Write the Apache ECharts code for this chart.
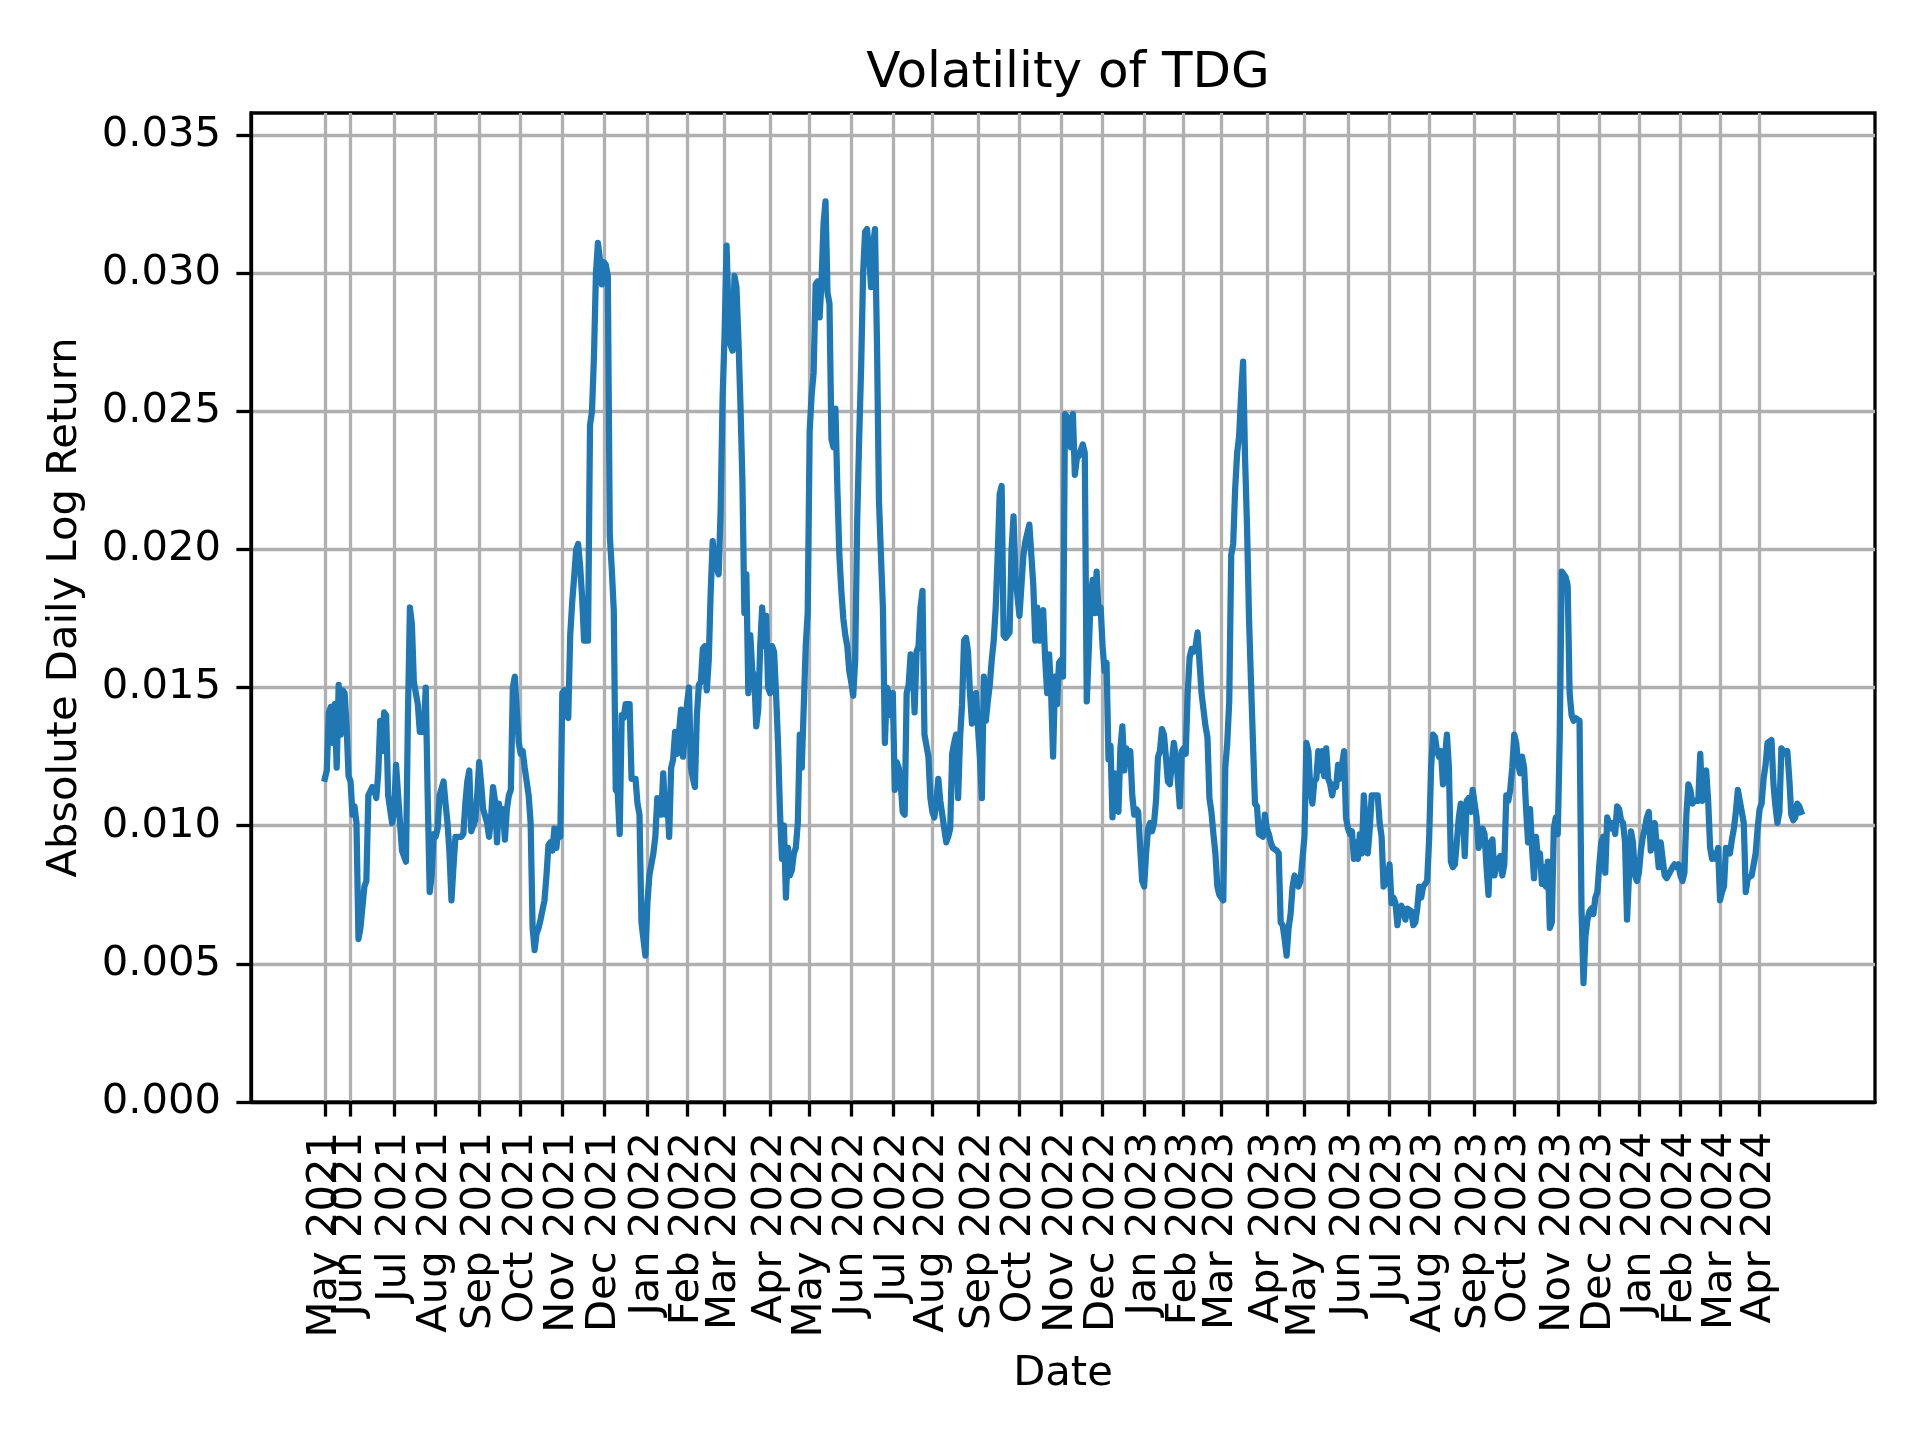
<!DOCTYPE html>
<html>
<head>
<meta charset="utf-8">
<script src="https://cdn.jsdelivr.net/npm/echarts@6/dist/echarts.min.js"></script>
<style>
html,body{margin:0;padding:0;background:#fff;}
#chart{width:1920px;height:1440px;}
</style>
</head>
<body>
<div id="chart"></div>
<script>
// ---------------- data ----------------
const chartTitle = 'Volatility of TDG';
const xAxisName = 'Date';
const yAxisName = 'Absolute Daily Log Return';

// trading calendar (x axis is plotted by trading day)
const firstTradingDay = '2021-05-12';
const lastTradingDay = '2024-04-30';
const marketHolidays = [
  '2021-05-31','2021-07-05','2021-09-06','2021-11-25','2021-12-24',
  '2022-01-17','2022-02-21','2022-04-15','2022-05-30','2022-06-20','2022-07-04','2022-09-05','2022-11-24','2022-12-26',
  '2023-01-02','2023-01-16','2023-02-20','2023-04-07','2023-05-29','2023-06-19','2023-07-04','2023-09-04','2023-11-23','2023-12-25',
  '2024-01-01','2024-01-15','2024-02-19','2024-03-29'
];

const tickLabels = [
  'May 2021','Jun 2021','Jul 2021','Aug 2021','Sep 2021','Oct 2021','Nov 2021','Dec 2021',
  'Jan 2022','Feb 2022','Mar 2022','Apr 2022','May 2022','Jun 2022','Jul 2022','Aug 2022',
  'Sep 2022','Oct 2022','Nov 2022','Dec 2022','Jan 2023','Feb 2023','Mar 2023','Apr 2023',
  'May 2023','Jun 2023','Jul 2023','Aug 2023','Sep 2023','Oct 2023','Nov 2023','Dec 2023',
  'Jan 2024','Feb 2024','Mar 2024','Apr 2024'
];
const yTicks = [0, 0.005, 0.010, 0.015, 0.020, 0.025, 0.030, 0.035];
const yMin = 0;
const yMax = 0.0358;

function days(ym, list) { return list.map(function (d) { return ym + '-' + String(d).padStart(2, '0'); }); }

const dates = [].concat(
  days('2021-05', [12,13,14,17,18,19,20,21,24,25,26,27,28]),
  days('2021-06', [1,2,3,4,7,8,9,10,11,14,16,17,18,21,22,23,24,25,28,30]),
  days('2021-07', [1,2,6,7,8,9,12,13,14,15,16,20,21,23,26,27,28,29,30]),
  days('2021-08', [2,3,4,6,9,10,11,12,13,16,17,19,20,23,24,25,26,30,31]),
  days('2021-09', [1,2,3,8,9,10,13,14,15,16,17,20,21,22,23,24,27,28,29,30]),
  days('2021-10', [1,4,5,7,8,11,12,13,14,15,18,19,20,21,22,25,26,27,28,29]),
  days('2021-11', [1,2,3,4,5,8,9,10,11,12,15,16,18,19,22,23,24,26,29,30]),
  days('2021-12', [1,2,3,6,7,8,9,10,13,14,15,16,20,21,23,27,28,29,30,31]),
  days('2022-01', [3,4,6,7,10,12,13,14,18,19,20,21,24,25,26,27,28,31]),
  days('2022-02', [1,2,3,4,7,8,9,10,11,14,15,16,17,18,22,24,25,28]),
  days('2022-03', [1,2,3,4,7,8,9,10,11,14,15,16,17,18,21,22,23,24,25,28,29,30,31]),
  days('2022-04', [1,4,5,6,7,8,11,12,13,14,18,19,20,21,22,25,26,27,28,29]),
  days('2022-05', [2,3,4,5,6,9,10,11,12,13,16,17,18,19,20,23,24,25,26,27,31]),
  days('2022-06', [1,2,3,6,7,8,9,10,13,14,15,16,17,21,22,23,24,27,28,29,30]),
  days('2022-07', [1,5,6,7,8,11,12,13,14,15,18,19,20,21,22,25,26,28,29]),
  days('2022-08', [1,2,3,4,5,8,9,10,11,12,15,16,17,18,19,22,23,24,25,26,29,30,31]),
  days('2022-09', [1,2,6,7,8,9,12,13,14,15,16,19,20,21,22,23,26,27,28,29,30]),
  days('2022-10', [3,4,5,6,7,10,11,12,13,14,17,18,19,20,21,24,25,26,27,28,31]),
  days('2022-11', [1,2,3,4,7,8,9,10,11,14,15,16,17,18,21,22,23,25,28,29,30]),
  days('2022-12', [1,2,5,6,7,8,9,12,13,14,15,16,19,20,21,22,23,27,28,29,30]),
  days('2023-01', [3,4,5,6,9,10,11,12,13,17,18,19,20,23,24,25,26,27,30,31]),
  days('2023-02', [1,2,3,6,7,8,9,10,13,14,15,16,17,21,22,23,24,27,28]),
  days('2023-03', [1,2,3,6,7,8,9,10,13,14,15,16,17,20,21,22,23,24,27,28,29,30,31]),
  days('2023-04', [3,4,5,6,10,11,12,13,14,17,18,19,20,21,24,25,26,27,28]),
  days('2023-05', [1,2,3,4,5,8,9,10,11,12,15,16,17,18,19,22,23,24,25,26,30,31]),
  days('2023-06', [1,2,5,6,7,8,9,12,13,14,15,16,20,21,23,26,27,28,29,30]),
  days('2023-07', [3,5,6,7,10,11,12,13,14,17,18,19,20,21,24,25,26,27,28,31]),
  days('2023-08', [1,2,3,4,7,8,9,10,11,14,15,16,17,18,21,22,23,24,25,28,29,30,31]),
  days('2023-09', [1,5,6,7,8,11,12,13,14,15,18,19,20,21,22,25,26,27,28,29]),
  days('2023-10', [2,3,4,5,6,9,10,11,12,13,16,17,18,19,20,23,24,25,26,27,30,31]),
  days('2023-11', [1,2,3,6,7,8,9,10,13,14,15,16,17,20,21,22,24,27,28,29,30]),
  days('2023-12', [1,4,5,6,7,8,11,12,13,14,15,18,19,20,21,22,26,27,28,29]),
  days('2024-01', [2,3,4,5,8,9,10,11,12,16,17,18,19,22,23,24,26,29,30,31]),
  days('2024-02', [1,2,5,6,7,8,9,12,13,14,15,16,20,21,22,23,26,27,28,29]),
  days('2024-03', [1,4,5,6,7,8,11,12,13,14,15,18,19,20,21,22,25,26,27,28]),
  days('2024-04', [1,2,3,4,5,8,9,10,11,12,15,16,17,18,19,22,23,24,25,26,29,30])
);

const values = [
  // 2021-05
  .0117,.0120,.0141,.0143,.0130,.0144,.0121,.0151,.0133,.0149,.0148,.0136,.0118,
  // 2021-06
  .0116,.0104,.0107,.0101,.0059,.0063,.0063,.0078,.0080,.0111,.0114,.0113,.0110,.0119,.0138,.0127,.0141,.0140,.0111,.0101,
  // 2021-07
  .0105,.0122,.0122,.0101,.0091,.0091,.0087,.0140,.0179,.0173,.0152,.0144,.0134,.0134,.0150,.0110,.0076,.0082,.0097,
  // 2021-08
  .0096,.0099,.0111,.0116,.0108,.0101,.0090,.0073,.0085,.0096,.0096,.0096,.0097,.0108,.0116,.0120,.0098,.0102,.0111,
  // 2021-09
  .0123,.0115,.0106,.0101,.0096,.0103,.0114,.0109,.0094,.0108,.0101,.0106,.0095,.0106,.0111,.0113,.0150,.0154,.0154,.0130,
  // 2021-10
  .0126,.0127,.0121,.0111,.0101,.0063,.0055,.0061,.0063,.0066,.0066,.0073,.0082,.0093,.0094,.0091,.0099,.0092,.0099,.0096,
  // 2021-11
  .0148,.0149,.0140,.0139,.0169,.0181,.0190,.0200,.0202,.0194,.0183,.0167,.0167,.0245,.0250,.0270,.0300,.0311,.0305,.0296,
  // 2021-12
  .0304,.0303,.0299,.0205,.0193,.0178,.0113,.0112,.0097,.0140,.0139,.0144,.0144,.0117,.0117,.0108,.0104,.0065,.0059,.0053,
  // 2022-01
  .0072,.0082,.0090,.0096,.0110,.0104,.0119,.0104,.0111,.0096,.0121,.0124,.0134,.0126,.0134,.0142,.0125,.0134,
  // 2022-02
  .0144,.0150,.0121,.0117,.0114,.0140,.0151,.0152,.0164,.0165,.0149,.0160,.0185,.0203,.0196,.0191,.0214,.0255,
  // 2022-03
  .0278,.0310,.0285,.0274,.0272,.0299,.0295,.0276,.0253,.0225,.0177,.0191,.0148,.0169,.0156,.0154,.0136,.0142,.0165,.0179,.0165,.0176,.0150,
  // 2022-04
  .0148,.0165,.0163,.0148,.0130,.0105,.0088,.0100,.0074,.0092,.0082,.0084,.0090,.0092,.0101,.0133,.0121,.0121,.0165,.0177,
  // 2022-05
  .0243,.0256,.0264,.0296,.0297,.0284,.0297,.0318,.0326,.0293,.0289,.0240,.0237,.0251,.0222,.0198,.0185,.0175,.0169,.0165,.0156,
  // 2022-06
  .0152,.0147,.0160,.0210,.0240,.0266,.0300,.0315,.0316,.0307,.0295,.0310,.0316,.0275,.0218,.0198,.0179,.0130,.0150,.0148,.0140,
  // 2022-07
  .0148,.0113,.0123,.0121,.0115,.0105,.0104,.0148,.0151,.0162,.0161,.0141,.0163,.0165,.0179,.0185,.0133,.0125,.0110,
  // 2022-08
  .0105,.0103,.0109,.0117,.0109,.0109,.0099,.0094,.0096,.0099,.0126,.0130,.0133,.0110,.0132,.0144,.0167,.0168,.0163,.0148,.0137,.0138,.0148,
  // 2022-09
  .0136,.0125,.0110,.0154,.0138,.0145,.0151,.0160,.0167,.0179,.0198,.0220,.0223,.0169,.0168,.0169,.0170,.0200,.0212,.0190,.0183,
  // 2022-10
  .0176,.0187,.0198,.0203,.0206,.0209,.0198,.0187,.0167,.0179,.0167,.0176,.0178,.0160,.0148,.0162,.0148,.0125,.0154,.0144,.0159,
  // 2022-11
  .0160,.0154,.0249,.0248,.0248,.0237,.0249,.0227,.0233,.0234,.0236,.0238,.0235,.0145,.0163,.0183,.0189,.0177,.0192,.0177,.0179,
  // 2022-12
  .0165,.0156,.0159,.0124,.0129,.0103,.0119,.0110,.0105,.0128,.0136,.0120,.0128,.0123,.0127,.0111,.0104,.0106,.0105,.0092,.0080,
  // 2023-01
  .0078,.0090,.0099,.0101,.0098,.0101,.0109,.0125,.0127,.0135,.0133,.0125,.0116,.0115,.0123,.0130,.0125,.0117,.0107,.0127,
  // 2023-02
  .0128,.0126,.0148,.0161,.0164,.0163,.0165,.0170,.0170,.0148,.0142,.0136,.0132,.0110,.0105,.0097,.0090,.0078,.0075,
  // 2023-03
  .0074,.0073,.0121,.0130,.0145,.0198,.0202,.0222,.0235,.0241,.0256,.0268,.0233,.0208,.0175,.0152,.0130,.0108,.0107,.0097,.0097,.0096,.0104,
  // 2023-04
  .0099,.0097,.0094,.0092,.0092,.0091,.0090,.0065,.0064,.0059,.0053,.0063,.0068,.0078,.0082,.0082,.0078,.0080,.0088,
  // 2023-05
  .0096,.0130,.0127,.0113,.0108,.0116,.0117,.0127,.0120,.0127,.0118,.0128,.0117,.0115,.0111,.0115,.0114,.0122,.0117,.0122,.0127,.0103,
  // 2023-06
  .0099,.0097,.0098,.0088,.0094,.0088,.0097,.0090,.0111,.0111,.0090,.0099,.0111,.0111,.0111,.0101,.0096,.0078,.0078,.0080,
  // 2023-07
  .0086,.0072,.0074,.0072,.0064,.0070,.0071,.0069,.0066,.0070,.0070,.0069,.0064,.0065,.0070,.0078,.0074,.0078,.0078,.0080,
  // 2023-08
  .0095,.0121,.0133,.0132,.0127,.0125,.0127,.0115,.0125,.0133,.0121,.0087,.0085,.0086,.0094,.0103,.0108,.0107,.0089,.0109,.0110,.0105,.0113,
  // 2023-09
  .0113,.0103,.0092,.0094,.0099,.0097,.0085,.0075,.0094,.0095,.0082,.0082,.0088,.0089,.0082,.0086,.0111,.0109,.0113,.0121,
  // 2023-10
  .0133,.0130,.0122,.0119,.0125,.0121,.0106,.0094,.0106,.0092,.0081,.0096,.0088,.0090,.0079,.0085,.0078,.0087,.0063,.0065,.0099,.0103,
  // 2023-11
  .0097,.0132,.0192,.0192,.0190,.0187,.0148,.0140,.0138,.0139,.0139,.0138,.0070,.0043,.0060,.0066,.0069,.0070,.0068,.0074,.0076,
  // 2023-12
  .0086,.0094,.0096,.0083,.0103,.0103,.0099,.0101,.0097,.0107,.0106,.0102,.0101,.0094,.0066,.0082,.0098,.0094,.0082,.0080,
  // 2024-01
  .0083,.0091,.0096,.0099,.0103,.0105,.0091,.0096,.0101,.0101,.0085,.0094,.0094,.0082,.0081,.0081,.0085,.0086,.0085,.0086,
  // 2024-02
  .0082,.0080,.0083,.0104,.0115,.0113,.0108,.0109,.0109,.0109,.0126,.0109,.0119,.0120,.0109,.0092,.0088,.0090,.0088,.0092,
  // 2024-03
  .0073,.0076,.0078,.0092,.0091,.0090,.0095,.0099,.0105,.0113,.0113,.0105,.0101,.0076,.0081,.0081,.0082,.0086,.0090,.0099,
  // 2024-04
  .0106,.0108,.0117,.0122,.0130,.0130,.0131,.0115,.0107,.0101,.0105,.0128,.0128,.0126,.0127,.0117,.0104,.0102,.0103,.0108,.0107,.0105
];

// ---------------- build trading-day scale ----------------
const holidaySet = new Set(marketHolidays);
const tradingDays = [];
for (let t = Date.parse(firstTradingDay + 'T00:00:00Z'); ; t += 86400000) {
  const dt = new Date(t);
  const s = dt.toISOString().slice(0, 10);
  if (s > lastTradingDay) break;
  const wd = dt.getUTCDay();
  if (wd === 0 || wd === 6 || holidaySet.has(s)) continue;
  tradingDays.push(s);
}
const dayIndex = new Map(tradingDays.map(function (d, i) { return [d, i]; }));

// ticks at the first trading day of each month
const tickIdx = [];
let prevMonth = '';
tradingDays.forEach(function (d, i) {
  const m = d.slice(0, 7);
  if (m !== prevMonth) { tickIdx.push(i); prevMonth = m; }
});
const labelAt = {};
tickIdx.forEach(function (idx, k) { labelAt[idx] = tickLabels[k] || ''; });
// labels are split over two overlaid axes so that the library does not drop crowded neighbours
const labelIdxEven = tickIdx.filter(function (v, k) { return k % 2 === 0; });
const labelIdxOdd = tickIdx.filter(function (v, k) { return k % 2 === 1; });

const seriesData = [];
dates.forEach(function (d, i) {
  if (dayIndex.has(d)) seriesData.push([dayIndex.get(d), values[i]]);
});

const nLast = tradingDays.length - 1;
const xMin = -0.05 * nLast;
const xMax = 1.05 * nLast;

// ---------------- chart ----------------
const FONT = 'DejaVu Sans';
const FS = 41.7;
const gridLeft = 251, gridTop = 113, gridWidth = 1624, gridHeight = 989;
const xLabelFormatter = function (v) { return labelAt[Math.round(v)] || ''; };

const chart = echarts.init(document.getElementById('chart'), null, { width: 1920, height: 1440 });
chart.setOption({
  animation: false,
  backgroundColor: '#ffffff',
  title: {
    text: chartTitle,
    left: gridLeft + gridWidth / 2,
    textAlign: 'center',
    top: 44,
    textStyle: { fontFamily: FONT, fontSize: 50, fontWeight: 'normal', color: '#000' }
  },
  grid: {
    left: gridLeft, top: gridTop, width: gridWidth, height: gridHeight,
    show: true, borderColor: '#000', borderWidth: 3.3, backgroundColor: 'transparent',
    containLabel: false
  },
  xAxis: [{
    type: 'value',
    position: 'bottom',
    offset: 0,
    min: xMin,
    max: xMax,
    name: xAxisName,
    nameLocation: 'middle',
    nameGap: 251,
    nameTextStyle: { fontFamily: FONT, fontSize: FS, color: '#000' },
    axisLine: { show: true, onZero: false, lineStyle: { color: '#000', width: 3.3 } },
    axisTick: { show: true, customValues: tickIdx, length: 14.6, lineStyle: { color: '#000', width: 3.3 } },
    axisLabel: {
      show: true, customValues: labelIdxEven, rotate: 90, margin: 30,
      showMinLabel: true, showMaxLabel: true, hideOverlap: false,
      fontFamily: FONT, fontSize: FS, color: '#000',
      formatter: xLabelFormatter
    },
    splitLine: { show: true, lineStyle: { color: '#b0b0b0', width: 3.3 } }
  }, {
    type: 'value',
    position: 'bottom',
    offset: 0,
    min: xMin,
    max: xMax,
    axisLine: { show: false, onZero: false },
    axisTick: { show: false },
    splitLine: { show: false },
    axisLabel: {
      show: true, customValues: labelIdxOdd, rotate: 90, margin: 30,
      showMinLabel: true, showMaxLabel: true, hideOverlap: false,
      fontFamily: FONT, fontSize: FS, color: '#000',
      formatter: xLabelFormatter
    }
  }],
  yAxis: {
    type: 'value',
    min: yMin,
    max: yMax,
    interval: 0.005,
    name: yAxisName,
    nameLocation: 'middle',
    nameRotate: 90,
    nameGap: 165,
    nameTextStyle: { fontFamily: FONT, fontSize: FS, color: '#000' },
    axisLine: { show: true, onZero: false, lineStyle: { color: '#000', width: 3.3 } },
    axisTick: { show: true, customValues: yTicks, length: 14.6, lineStyle: { color: '#000', width: 3.3 } },
    axisLabel: {
      show: true, customValues: yTicks, margin: 30,
      showMinLabel: true, showMaxLabel: true,
      fontFamily: FONT, fontSize: FS, color: '#000',
      formatter: function (v) { return v.toFixed(3); }
    },
    splitLine: { show: true, lineStyle: { color: '#b0b0b0', width: 3.3 } }
  },
  series: [{
    type: 'line',
    xAxisIndex: 0,
    data: seriesData,
    showSymbol: false,
    symbol: 'none',
    smooth: false,
    z: 5,
    lineStyle: { color: '#1f77b4', width: 6.25, join: 'round', cap: 'square' },
    itemStyle: { color: '#1f77b4' }
  }]
});
</script>
</body>
</html>
